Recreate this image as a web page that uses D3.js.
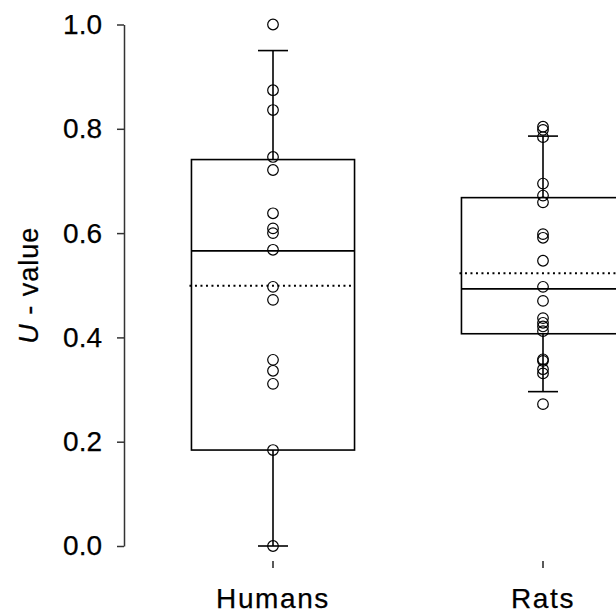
<!DOCTYPE html>
<html>
<head>
<meta charset="utf-8">
<script src="https://cdn.jsdelivr.net/npm/d3@7"></script>
<style>
  html, body { margin: 0; padding: 0; background: #fff; }
  svg { display: block; }
  text { font-family: "Liberation Sans", Arial, sans-serif; fill: #000; }
</style>
</head>
<body>
<svg id="chart" width="616" height="614"></svg>
<script>
// ---- data ----
const categories = ["Humans", "Rats"];
const humansPoints = [1.0, 0.874, 0.836, 0.746, 0.721, 0.638, 0.609, 0.600, 0.568, 0.497, 0.472, 0.357, 0.336, 0.311, 0.184, 0.0];
const ratsPoints = [0.804, 0.798, 0.784, 0.695, 0.672, 0.659, 0.598, 0.591, 0.547, 0.497, 0.470, 0.437, 0.428, 0.421, 0.412, 0.358, 0.355, 0.339, 0.331, 0.272];
const whiskerLow = [0.0, 0.296];
const q1 = [0.184, 0.407];
const median = [0.566, 0.493];
const q3 = [0.741, 0.668];
const whiskerHigh = [0.950, 0.786];
const mean = [0.499, 0.523];
const yTicks = [0, 0.2, 0.4, 0.6, 0.8, 1.0];

const pointsByCat = [humansPoints, ratsPoints];
const stats = categories.map((c, i) => ({
  cat: c, lo: whiskerLow[i], q1: q1[i], med: median[i], q3: q3[i], hi: whiskerHigh[i], mean: mean[i], pts: pointsByCat[i]
}));

// ---- layout ----
const svg = d3.select("#chart");
const x = d3.scaleBand().domain(categories).range([138, 678]);
const y = d3.scaleLinear().domain([0, 1]).range([546, 24.5]);
const boxW = x.bandwidth() * 0.604;
const capW = 30;
const cx = d => x(d) + x.bandwidth() / 2;

// y axis
const yAxis = svg.append("g")
  .attr("transform", "translate(124,0)")
  .call(d3.axisLeft(y).tickValues(yTicks).tickFormat(d3.format(".1f")).tickSize(7).tickSizeOuter(0).tickPadding(15));
yAxis.select(".domain").attr("stroke", "#333").attr("stroke-width", 1.5);
yAxis.selectAll(".tick line").attr("stroke", "#333").attr("stroke-width", 1.5);
yAxis.selectAll(".tick text").style("font-size", "28px").attr("fill", "#000")
  .style("font-family", '"Liberation Sans", Arial, sans-serif')
  .attr("stroke", "#000").attr("stroke-width", 0.25);

// x axis (ticks only, no domain line)
const xAxis = svg.append("g")
  .attr("transform", "translate(0,561)")
  .call(d3.axisBottom(x).tickSize(7).tickSizeOuter(0).tickPadding(19));
xAxis.select(".domain").remove();
xAxis.selectAll(".tick line").attr("stroke", "#000").attr("stroke-width", 1.3);
xAxis.selectAll(".tick text")
  .style("font-size", "28px").style("letter-spacing", "1.6px")
  .style("font-family", '"Liberation Sans", Arial, sans-serif')
  .attr("fill", "#000").attr("stroke", "#000").attr("stroke-width", 0.25)
  .attr("dy", null).attr("y", 46.7);

// y title
svg.append("text")
  .attr("transform", `translate(38,${(y(0) + y(1)) / 2}) rotate(-90)`)
  .attr("text-anchor", "middle")
  .attr("stroke", "#000").attr("stroke-width", 0.25)
  .style("font-size", "27px").style("letter-spacing", "1px")
  .html('<tspan font-style="italic">U</tspan> - value');

// boxes
const g = svg.append("g").attr("stroke", "#000").attr("fill", "none").attr("stroke-width", 1.6);
stats.forEach(s => {
  const c = cx(s.cat);
  // whiskers
  g.append("line").attr("x1", c).attr("x2", c).attr("y1", y(s.q3)).attr("y2", y(s.hi));
  g.append("line").attr("x1", c).attr("x2", c).attr("y1", y(s.q1)).attr("y2", y(s.lo));
  g.append("line").attr("x1", c - capW / 2).attr("x2", c + capW / 2).attr("y1", y(s.hi)).attr("y2", y(s.hi));
  g.append("line").attr("x1", c - capW / 2).attr("x2", c + capW / 2).attr("y1", y(s.lo)).attr("y2", y(s.lo));
  // box
  g.append("rect").attr("x", c - boxW / 2).attr("y", y(s.q3)).attr("width", boxW).attr("height", y(s.q1) - y(s.q3));
  // median
  g.append("line").attr("x1", c - boxW / 2).attr("x2", c + boxW / 2).attr("y1", y(s.med)).attr("y2", y(s.med));
  // mean (dotted)
  g.append("line").attr("x1", c - boxW / 2 - 2).attr("x2", c + boxW / 2).attr("y1", y(s.mean)).attr("y2", y(s.mean))
    .attr("stroke-dasharray", "2,3.5").attr("stroke-width", 1.9);
  // points
  g.selectAll(null).data(s.pts).enter().append("circle")
    .attr("cx", c).attr("cy", d => y(d)).attr("r", 5.3).attr("stroke-width", 1.2);
});
</script>
</body>
</html>
